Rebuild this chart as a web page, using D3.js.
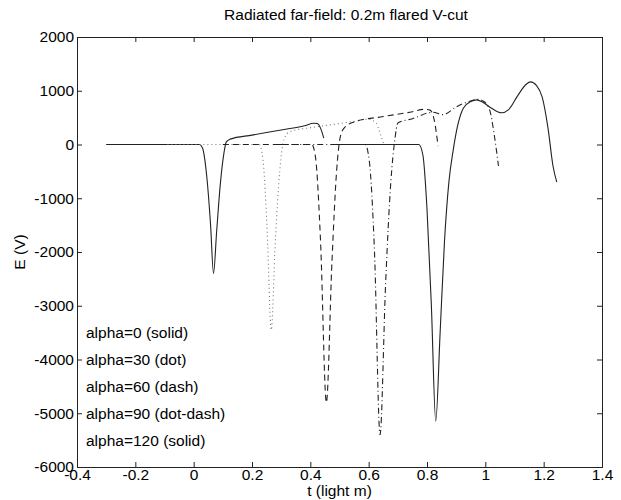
<!DOCTYPE html>
<html>
<head>
<meta charset="utf-8">
<script src="https://cdn.jsdelivr.net/npm/d3@7"></script>
<style>
  body { margin: 0; background: #fff; }
  text { font-family: "Liberation Sans", Arial, sans-serif; fill: #000; }
</style>
</head>
<body>
<div id="chart"></div>
<script>
// tick values
var xTicks = [-0.4, -0.2, 0, 0.2, 0.4, 0.6, 0.8, 1, 1.2, 1.4];
var yTicks = [2000, 1000, 0, -1000, -2000, -3000, -4000, -5000, -6000];

// legend lines (plain text in the original)
var legendLabels = ["alpha=0 (solid)", "alpha=30 (dot)", "alpha=60 (dash)", "alpha=90 (dot-dash)", "alpha=120 (solid)"];

// [t (light m), E (V)]
var alpha0 = [[-0.3,0],[0.02,0],[0.03,-60],[0.045,-600],[0.058,-1500],[0.068,-2400],[0.079,-1600],[0.092,-700],[0.104,-150],[0.112,50],[0.125,100],[0.2,175],[0.3,270],[0.38,350],[0.412,395],[0.424,390],[0.436,290],[0.446,120]];
var alpha30 = [[-0.09,0],[0.225,0],[0.238,-300],[0.252,-1600],[0.266,-3450],[0.28,-1800],[0.295,-500],[0.31,100],[0.33,240],[0.41,320],[0.5,390],[0.56,440],[0.6,470],[0.625,400],[0.64,200],[0.652,0]];
var alpha60 = [[0.10,0],[0.405,0],[0.418,-250],[0.435,-1800],[0.455,-4800],[0.474,-2200],[0.49,-500],[0.503,150],[0.515,300],[0.55,420],[0.65,520],[0.75,610],[0.79,655],[0.81,640],[0.825,450],[0.838,-30]];
var alpha90 = [[0.29,0],[0.588,0],[0.602,-300],[0.62,-2000],[0.639,-5400],[0.658,-2600],[0.676,-700],[0.69,100],[0.70,400],[0.75,480],[0.82,600],[0.855,555],[0.9,700],[0.95,810],[0.975,840],[0.995,800],[1.015,640],[1.03,200],[1.045,-400]];
var alpha120 = [[0.48,0],[0.772,0],[0.786,-200],[0.80,-1200],[0.815,-3000],[0.83,-5150],[0.845,-3500],[0.86,-1800],[0.875,-700],[0.89,-100],[0.905,350],[0.925,680],[0.95,800],[0.97,830],[0.99,790],[1.02,680],[1.055,590],[1.08,650],[1.11,900],[1.14,1120],[1.155,1165],[1.175,1100],[1.195,880],[1.215,300],[1.232,-400],[1.245,-700]];

function drawChart(placeholderName)
{
	var width = 621,
		height = 500,
		fontSize = 15.5,
		margin = { top: 37, right: 19, bottom: 33, left: 77 };

	var svg = d3.select("#" + placeholderName)
		.append("svg")
		.attr("width", width)
		.attr("height", height);

	var x = d3.scaleLinear()
		.domain([-0.4, 1.4])
		.range([margin.left, width - margin.right]);

	var y = d3.scaleLinear()
		.domain([-6000, 2000])
		.range([height - margin.bottom, margin.top]);

	// plain hyphen for negatives, like the original
	var fmt = function(d) { return String(d); };

	// axes: ticks point inwards, all four sides like matlab
	svg.append("g")
		.attr("class", "axis")
		.attr("transform", "translate(0," + y.range()[0] + ")")
		.call(d3.axisBottom(x).tickValues(xTicks).tickSize(-5).tickPadding(2).tickFormat(fmt));
	svg.append("g")
		.attr("class", "axis")
		.attr("transform", "translate(0," + y.range()[1] + ")")
		.call(d3.axisTop(x).tickValues(xTicks).tickSize(-5).tickFormat(""));
	svg.append("g")
		.attr("class", "axis")
		.attr("transform", "translate(" + x.range()[0] + ",0)")
		.call(d3.axisLeft(y).tickValues(yTicks).tickSize(-5).tickPadding(3).tickFormat(fmt));
	svg.append("g")
		.attr("class", "axis")
		.attr("transform", "translate(" + x.range()[1] + ",0)")
		.call(d3.axisRight(y).tickValues(yTicks).tickSize(-5).tickFormat(""));

	svg.selectAll(".axis .domain")
		.style("stroke", "#222")
		.style("stroke-width", "1px");
	svg.selectAll(".axis line")
		.style("stroke", "#222");
	svg.selectAll(".axis text")
		.style("font-family", "'Liberation Sans', Arial, sans-serif")
		.style("font-size", fontSize + "px")
		.style("fill", "#000");

	var line = d3.line()
		.x(function(d) { return x(d[0]); })
		.y(function(d) { return y(d[1]); })
		.curve(d3.curveMonotoneX);

	var series = [
		{ values: alpha0, dash: null, color: "#222" },
		{ values: alpha30, dash: "1,3", color: "#777" },
		{ values: alpha60, dash: "6,4", color: "#222" },
		{ values: alpha90, dash: "6,3,1,3", color: "#222" },
		{ values: alpha120, dash: null, color: "#222" }
	];

	svg.selectAll(".curve")
		.data(series)
		.enter().append("path")
		.attr("class", "curve")
		.attr("d", function(d) { return line(d.values); })
		.style("fill", "none")
		.style("stroke", function(d) { return d.color; })
		.style("stroke-width", "1.1px")
		.style("stroke-dasharray", function(d) { return d.dash; });

	// legend text, one line per half tick step starting at -3500
	var step = y(-4500) - y(-4000);
	svg.selectAll(".legend")
		.data(legendLabels)
		.enter().append("text")
		.attr("class", "legend")
		.attr("x", 86)
		.attr("y", function(d, i) { return y(-3500) + i * step; })
		.attr("dy", "0.35em")
		.style("font-size", fontSize + "px")
		.text(function(d) { return d; });

	svg.append("text")
		.attr("x", 346)
		.attr("y", 20)
		.attr("text-anchor", "middle")
		.style("font-size", fontSize + "px")
		.text("Radiated far-field: 0.2m flared V-cut");

	svg.append("text")
		.attr("x", (x.range()[0] + x.range()[1]) / 2)
		.attr("y", 496)
		.attr("text-anchor", "middle")
		.style("font-size", fontSize + "px")
		.text("t (light m)");

	svg.append("text")
		.attr("transform", "translate(25," + (margin.top + height - margin.bottom) / 2 + ") rotate(-90)")
		.attr("text-anchor", "middle")
		.style("font-size", fontSize + "px")
		.text("E (V)");
}

drawChart("chart");
</script>
</body>
</html>
